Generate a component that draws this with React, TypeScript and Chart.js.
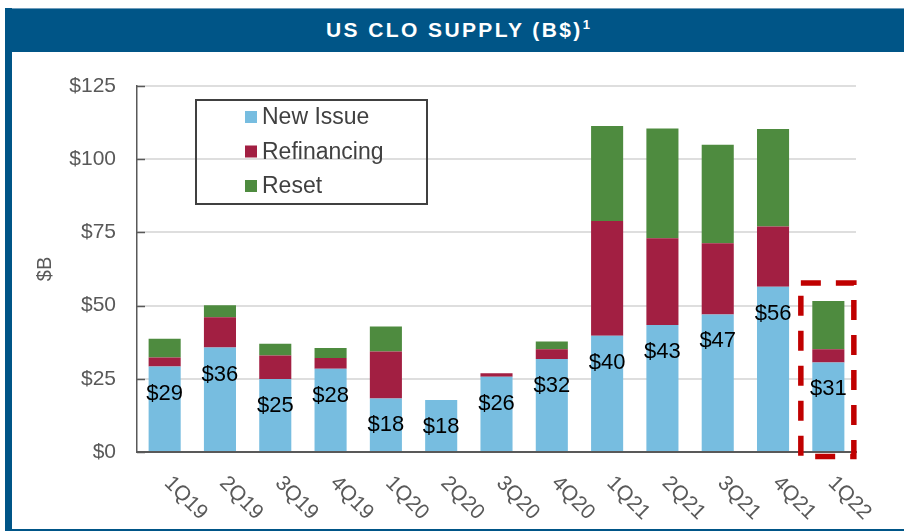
import React, { useEffect, useRef } from "react";
import { Chart, registerables } from "chart.js";

Chart.register(...registerables);

const categories = ["1Q19", "2Q19", "3Q19", "4Q19", "1Q20", "2Q20", "3Q20", "4Q20", "1Q21", "2Q21", "3Q21", "4Q21", "1Q22"];
const newIssue = [29.2, 35.7, 24.9, 28.4, 18.3, 17.8, 25.7, 31.8, 39.7, 43.4, 47.0, 56.4, 30.6];
const refinancing = [3.1, 10.3, 8.1, 3.7, 16.0, 0, 1.2, 3.3, 39.2, 29.6, 24.3, 20.6, 4.5];
const reset = [6.4, 4.1, 4.0, 3.4, 8.6, 0, 0, 2.6, 32.4, 37.5, 33.6, 33.3, 16.5];
const yTicks = [0, 25, 50, 75, 100, 125];
const highlightCategory = "1Q22";
const highlightTop = 57.7;
const highlightBottom = -1.5;

const FONT = "'Liberation Sans', Arial, Helvetica, sans-serif";

const overlayPlugin = {
  id: "overlay",
  afterDatasetsDraw(chart: any) {
    const ctx = chart.ctx as CanvasRenderingContext2D;
    const area = chart.chartArea;
    const xs = chart.scales.x;
    const ys = chart.scales.y;
    ctx.save();

    // inner tick marks on y axis
    ctx.strokeStyle = "#595959";
    ctx.lineWidth = 1.5;
    yTicks.forEach((v) => {
      const py = Math.round(ys.getPixelForValue(v)) + 0.5;
      ctx.beginPath();
      ctx.moveTo(area.left, py);
      ctx.lineTo(area.left + 8, py);
      ctx.stroke();
    });

    // value labels inside new issue bars
    const meta = chart.getDatasetMeta(0);
    ctx.fillStyle = "#000000";
    ctx.font = `22px ${FONT}`;
    ctx.textAlign = "center";
    ctx.textBaseline = "middle";
    meta.data.forEach((bar: any, i: number) => {
      ctx.fillText("$" + Math.round(newIssue[i]), bar.x, bar.y + 27);
    });

    // rotated category labels
    ctx.fillStyle = "#595959";
    ctx.font = `21px ${FONT}`;
    ctx.textAlign = "left";
    ctx.textBaseline = "middle";
    categories.forEach((c, i) => {
      const px = xs.getPixelForValue(i);
      ctx.save();
      ctx.translate(px + 3, area.bottom + 28);
      ctx.rotate(Math.PI / 4);
      ctx.fillText(c, 0, 0);
      ctx.restore();
    });

    // highlight dashed box
    const hi = categories.indexOf(highlightCategory);
    if (hi >= 0) {
      const cx = xs.getPixelForValue(hi);
      const top = ys.getPixelForValue(highlightTop);
      const bottom = ys.getPixelForValue(highlightBottom);
      ctx.strokeStyle = "#c00000";
      ctx.lineWidth = 5.5;
      ctx.setLineDash([20, 15]);
      ctx.strokeRect(cx - 27.5, top, 53, bottom - top);
      ctx.setLineDash([]);
    }

    // legend box
    const lx = area.left + 59;
    const ly = area.top + 14;
    ctx.strokeStyle = "#404040";
    ctx.lineWidth = 2;
    ctx.strokeRect(lx, ly, 231, 104);
    ctx.font = `23px ${FONT}`;
    ctx.textAlign = "left";
    ctx.textBaseline = "middle";
    chart.data.datasets.forEach((ds: any, i: number) => {
      const ry = ly + 17 + i * 34.5;
      ctx.fillStyle = ds.backgroundColor;
      ctx.fillRect(lx + 49, ry - 6, 12, 12);
      ctx.fillStyle = "#404040";
      ctx.fillText(ds.label, lx + 66, ry + 1);
    });

    ctx.restore();
  },
};

export default function App() {
  const canvasRef = useRef<HTMLCanvasElement | null>(null);

  useEffect(() => {
    if (!canvasRef.current) return;
    const chart = new Chart(canvasRef.current, {
      type: "bar",
      data: {
        labels: categories,
        datasets: [
          { label: "New Issue", data: newIssue, backgroundColor: "#77bde0" },
          { label: "Refinancing", data: refinancing, backgroundColor: "#a21f42" },
          { label: "Reset", data: reset, backgroundColor: "#4e8b3f" },
        ],
      },
      options: {
        responsive: false,
        animation: false,
        events: [],
        layout: { padding: { top: 86, right: 48, left: 0, bottom: 0 } },
        datasets: { bar: { barPercentage: 0.58, categoryPercentage: 1, borderWidth: 0 } },
        plugins: { legend: { display: false }, tooltip: { enabled: false }, title: { display: false } },
        scales: {
          x: {
            stacked: true,
            grid: { display: false, drawTicks: false },
            border: { display: true, color: "#595959", width: 2 },
            ticks: { display: false },
            afterFit: (s: any) => {
              s.height = 79;
            },
          },
          y: {
            stacked: true,
            min: 0,
            max: 125,
            grid: { color: "#dedede", lineWidth: 2, drawTicks: false },
            border: { display: true, color: "#595959", width: 1.5 },
            ticks: {
              stepSize: 25,
              padding: 21,
              color: "#595959",
              font: { family: FONT, size: 21 },
              callback: (v: any) => "$" + v,
            },
            title: {
              display: true,
              text: "$B",
              color: "#595959",
              font: { family: FONT, size: 20 },
              padding: { top: 33, bottom: 0 },
            },
            afterFit: (s: any) => {
              s.width = 137;
            },
          },
        },
      },
      plugins: [overlayPlugin],
    });
    return () => chart.destroy();
  }, []);

  return (
    <div style={{ position: "fixed", left: 0, top: 0, width: 904, height: 531, background: "#ffffff", overflow: "hidden" }}>
      <canvas ref={canvasRef} width={904} height={531} style={{ position: "absolute", left: 0, top: 0 }} />
      <div
        style={{
          position: "absolute",
          left: 5,
          top: 8,
          width: 899,
          height: 44,
          background: "#005587",
          borderTop: "1px solid #6f9cbb",
          boxSizing: "border-box",
        }}
      />
      <div
        style={{
          position: "absolute",
          left: 12,
          top: 8,
          width: 892,
          height: 44,
          lineHeight: "44px",
          textAlign: "center",
          color: "#ffffff",
          fontFamily: FONT,
          fontWeight: "bold",
          fontSize: 21,
          letterSpacing: "2.4px",
          whiteSpace: "nowrap",
        }}
      >
        US CLO SUPPLY (B$)<sup style={{ fontSize: 13, verticalAlign: "top", lineHeight: "34px", letterSpacing: 0 }}>1</sup>
      </div>
      <div style={{ position: "absolute", left: 5, top: 8, width: 7, height: 523, background: "#005587" }} />
      <div style={{ position: "absolute", left: 5, top: 529, width: 899, height: 2, background: "#005587" }} />
    </div>
  );
}
